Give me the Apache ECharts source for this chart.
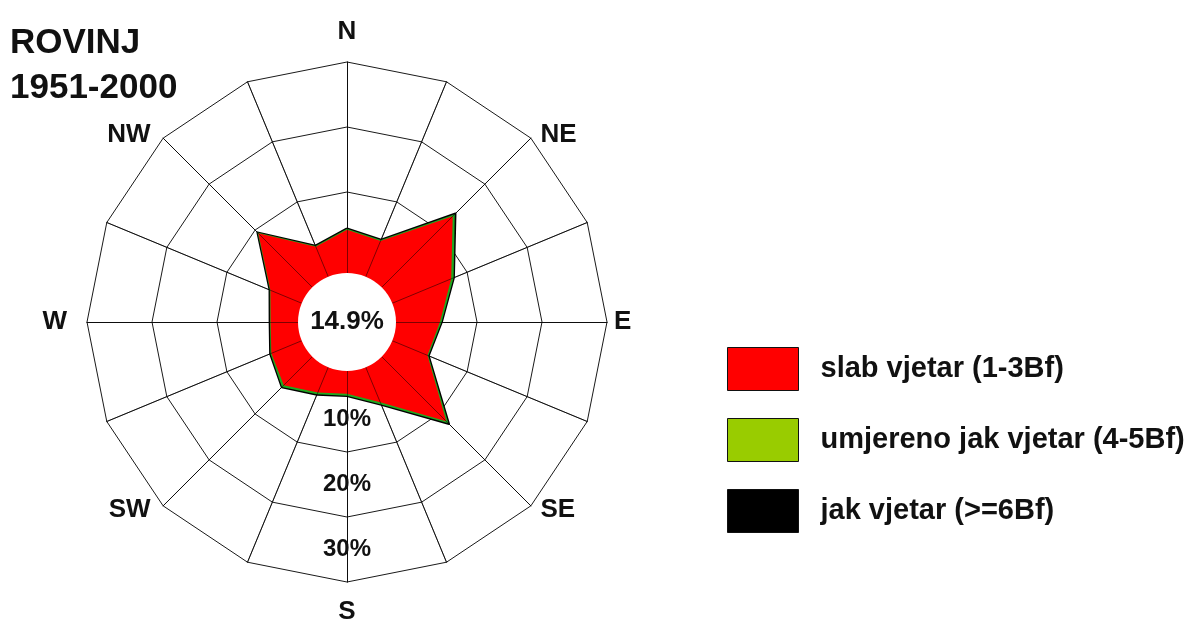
<!DOCTYPE html>
<html>
<head>
<meta charset="utf-8">
<script src="https://cdn.jsdelivr.net/npm/echarts@6/dist/echarts.min.js"></script>
<style>
html,body{margin:0;padding:0;background:#fff;}
#chart{width:1186px;height:621px;}
</style>
</head>
<body>
<div id="chart"></div>
<script>
// ---- data (percent of time), clockwise from N ----
var directions = ['N','NNE','NE','ENE','E','ESE','SE','SSE','S','SSW','SW','WSW','W','WNW','NW','NNW'];
var dirLabels  = ['N','','NE','','E','','SE','','S','','SW','','W','','NW',''];
var slab      = [4.2, 3.5, 13.0, 7.35, 4.3, 3.4, 11.6, 3.35, 1.05, 1.75, 3.75, 2.6, 1.75, 2.75, 9.3, 2.55];
var umjereno  = [0.15, 0.15, 0.45, 0.4, 0.25, 0.15, 0.45, 0.4, 0.3, 0.3, 0.4, 0.15, 0.1, 0.1, 0.15, 0.1];
var jak       = [0.05, 0.05, 0.15, 0.05, 0.05, 0.05, 0.15, 0.05, 0.05, 0.05, 0.05, 0.05, 0.05, 0.05, 0.05, 0.05];
var calm = 14.9;
var ringLabels = ['', '10%', '20%', '30%'];
var seriesNames = ['slab vjetar (1-3Bf)', 'umjereno jak vjetar (4-5Bf)', 'jak vjetar (>=6Bf)'];
var titleLines = ['ROVINJ', '1951-2000'];

// radar places indicators counter-clockwise: reorder so that they run clockwise
var order = [0];
for (var i = directions.length - 1; i >= 1; i--) order.push(i);
function reorder(arr) { return order.map(function (k) { return arr[k]; }); }

var cumRed = slab.slice();
var cumGreen = slab.map(function (v, k) { return v + umjereno[k]; });
var cumAll = slab.map(function (v, k) { return v + umjereno[k] + jak[k]; });

var FONT = 'Liberation Sans, Arial, sans-serif';
var CENTER = [347, 322];
var R = 260;

var indicatorMain = order.map(function (k) {
  return { name: dirLabels[k], min: -10, max: 30 };
});
var indicatorTop = order.map(function (k) {
  return { name: '', min: -10, max: 30 };
});

function nameFmt(n) {
  if (n === '') return '';
  if (n === 'N' || n === 'S') return '{v|' + n + '}';
  if (n === 'W') return '{w|' + n + '}';
  if (n === 'E') return '{e|' + n + '}';
  return '{d|' + n + '}';
}
var nameStyle = { fontSize: 26, fontWeight: 'bold', color: '#111', fontFamily: FONT };

var chart = echarts.init(document.getElementById('chart'), null, { renderer: 'canvas' });
chart.setOption({
  backgroundColor: '#fff',
  animation: false,
  title: {
    text: titleLines.join('\n'),
    left: 5, top: 16,
    textStyle: { fontSize: 35, fontWeight: 'bold', color: '#111', fontFamily: FONT, lineHeight: 45 }
  },
  legend: {
    orient: 'vertical',
    left: 727, top: 347,
    padding: 0,
    itemWidth: 71, itemHeight: 43, itemGap: 27,
    icon: 'rect',
    data: seriesNames,
    itemStyle: { borderColor: '#111', borderWidth: 1 },
    textStyle: { fontSize: 29, fontWeight: 'bold', color: '#111', fontFamily: FONT, padding: [0, 0, 0, 17] },
    selectedMode: false
  },
  radar: [
    {
      center: CENTER, radius: R, startAngle: 90, splitNumber: 4, shape: 'polygon',
      indicator: indicatorMain,
      nameGap: 5,
      axisName: {
        formatter: nameFmt,
        color: '#111', fontSize: 26, fontWeight: 'bold', fontFamily: FONT,
        rich: {
          v: Object.assign({ padding: [12, 0, 12, 0] }, nameStyle),
          w: Object.assign({ padding: [0, 15, 0, 0] }, nameStyle),
          e: Object.assign({ padding: [0, 0, 0, 2] }, nameStyle),
          d: Object.assign({ padding: [0, 9, 0, 6] }, nameStyle)
        }
      },
      splitLine: { lineStyle: { color: '#1a1a1a', width: 1 } },
      splitArea: { show: false },
      axisLine: { lineStyle: { color: '#1a1a1a', width: 1 } },
      axisTick: { show: false },
      axisLabel: { show: false }
    },
    {
      center: CENTER, radius: R, startAngle: 90, splitNumber: 4, shape: 'polygon',
      indicator: indicatorTop,
      z: 3,
      axisName: { show: false },
      splitLine: { show: false },
      splitArea: { show: false },
      axisLine: { lineStyle: { color: 'rgba(0,0,0,0.5)', width: 1 } },
      axisTick: { show: false },
      axisLabel: { show: false }
    }
  ],
  polar: { center: CENTER, radius: [0, R] },
  angleAxis: { type: 'value', startAngle: 270, show: false },
  radiusAxis: {
    type: 'category',
    data: ringLabels,
    z: 10,
    axisLine: { show: false },
    axisTick: { show: false },
    splitLine: { show: false },
    axisLabel: { margin: 0, align: 'center', verticalAlign: 'middle', fontSize: 24, fontWeight: 'bold', color: '#111', fontFamily: FONT }
  },
  series: [
    {
      type: 'radar', radarIndex: 0, name: seriesNames[2], symbol: 'none', silent: true, z: 2,
      itemStyle: { color: '#000' },
      lineStyle: { color: '#000', width: 2 },
      areaStyle: { color: '#000', opacity: 1 },
      data: [{ value: reorder(cumAll), name: seriesNames[2] }]
    },
    {
      type: 'radar', radarIndex: 0, name: seriesNames[1], symbol: 'none', silent: true, z: 2,
      itemStyle: { color: '#99cc00' },
      lineStyle: { opacity: 0 },
      areaStyle: { color: '#1fa81f', opacity: 1 },
      data: [{ value: reorder(cumGreen), name: seriesNames[1] }]
    },
    {
      type: 'radar', radarIndex: 0, name: seriesNames[0], symbol: 'none', silent: true, z: 2,
      itemStyle: { color: '#ff0000' },
      lineStyle: { opacity: 0 },
      areaStyle: { color: '#ff0000', opacity: 1 },
      data: [{ value: reorder(cumRed), name: seriesNames[0] }]
    },
    {
      type: 'pie', name: 'calm', z: 4, silent: true,
      center: CENTER, radius: [0, 49],
      itemStyle: { color: '#ffffff' },
      label: {
        position: 'center', formatter: function (p) { return p.value + '%'; },
        fontSize: 26, fontWeight: 'bold', color: '#111', fontFamily: FONT
      },
      labelLine: { show: false },
      emphasis: { disabled: true },
      data: [{ value: calm, name: 'calm' }]
    }
  ]
});
</script>
</body>
</html>
